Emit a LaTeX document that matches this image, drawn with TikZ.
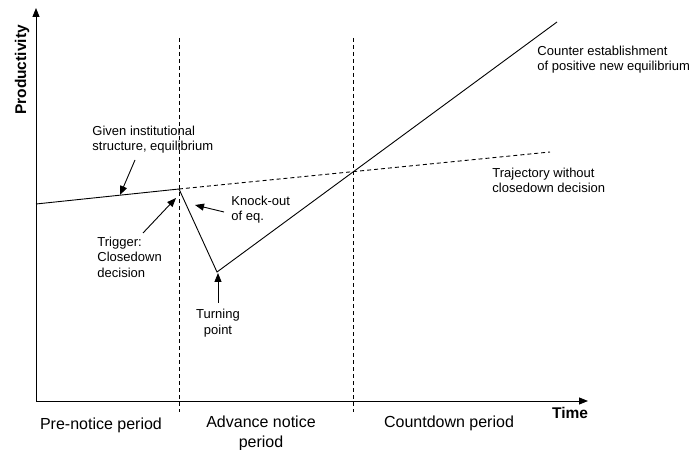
\documentclass[tikz,border=0pt]{standalone}
\usepackage{fontspec}
\setmainfont{Liberation Sans}
\usetikzlibrary{arrows.meta}

\begin{document}
\begin{tikzpicture}[x=1bp,y=-1bp,line width=0.9bp,
    note/.style={align=left,inner sep=0pt,font=\fontsize{13bp}{15.5bp}\selectfont},
    period/.style={align=center,inner sep=0pt,font=\fontsize{16bp}{20bp}\selectfont},
    axlabel/.style={inner sep=0pt,font=\fontsize{15.5bp}{18bp}\selectfont\bfseries},
    pointer/.style={-{Triangle[length=9bp,width=7bp]}},
    divider/.style={dash pattern=on 4bp off 3bp}]
	\useasboundingbox (0,0) rectangle (693,450);
	% axes
	\coordinate (origin) at (36,401);
	\coordinate (ytop) at (36,8);
	\coordinate (xend) at (588,401);
	\draw [pointer] (origin) -- (ytop);
	\draw [pointer] (origin) -- (xend);
	\node [axlabel, rotate=90] (prod) at (22,70) {Productivity};
	\node [axlabel] (time) at (570,413) {Time};
	% period borders
	\coordinate (b1top) at (179,38);
	\coordinate (b1bot) at (179,412);
	\coordinate (b2top) at (353,38);
	\coordinate (b2bot) at (353,412);
	\draw [divider] (b1top) -- (b1bot);
	\draw [divider] (b2top) -- (b2bot);
	% trajectories
	\coordinate (start) at (36,204);
	\coordinate (trigger) at (179,189);
	\coordinate (turn) at (217,272);
	\coordinate (peak) at (557,22);
	\coordinate (noclose) at (550,152);
	\draw (start) -- (trigger) -- (turn) -- (peak);
	\draw [divider] (trigger) -- (noclose);
	% notes
	\node [note, anchor=west] (given) at (92,139.5) {Given institutional\\structure, equilibrium};
	\node [note, anchor=west] (trig) at (97,257) {Trigger:\\Closedown\\decision};
	\node [note, anchor=west] (knock) at (231,209.5) {Knock-out\\of eq.};
	\node [note, align=center] (turning) at (218,323) {Turning\\point};
	\node [note, anchor=west] (traj) at (492,180.5) {Trajectory without\\closedown decision};
	\node [note, anchor=west] (counter) at (537,59.5) {Counter establishment\\of positive new equilibrium};
	% pointers
	\coordinate (givenTail) at (135,160);
	\coordinate (givenHead) at (120,195);
	\coordinate (trigTail) at (143,233);
	\coordinate (trigHead) at (176,198);
	\coordinate (knockTail) at (224,212);
	\coordinate (knockHead) at (195,205);
	\coordinate (turnTail) at (218,303);
	\coordinate (turnHead) at (218,273);
	\draw [pointer] (givenTail) -- (givenHead);
	\draw [pointer] (trigTail) -- (trigHead);
	\draw [pointer] (knockTail) -- (knockHead);
	\draw [pointer] (turnTail) -- (turnHead);
	% periods
	\node [period] (pre) at (101,425) {Pre-notice period};
	\node [period] (advance) at (261,433) {Advance notice\\period};
	\node [period] (countdown) at (449,423) {Countdown period};
\end{tikzpicture}
\end{document}
